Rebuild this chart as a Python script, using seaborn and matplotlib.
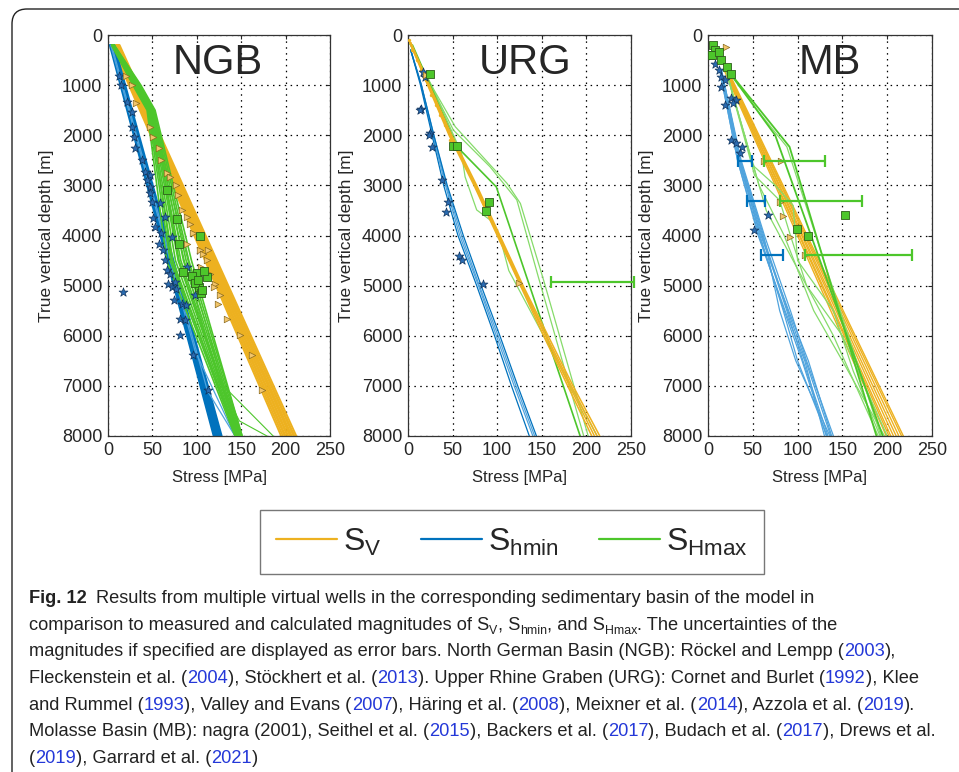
import pandas as pd
import seaborn as sns
from matplotlib import pyplot as plt
from matplotlib.lines import Line2D
from matplotlib.patches import FancyBboxPatch

SV_C = '#EDB120'
SHMIN_C = '#0072BD'
SHMIN_LIGHT = '#4FA3DD'
SHMAX_C = '#4DC62B'
SHMAX_LIGHT = '#86DB6A'

# ---------------- North German Basin ----------------
ngb_sv_top = [4, 5, 6, 7, 8, 9, 10, 10, 11, 12, 12, 13]
ngb_sv_bot = [195, 197, 199, 200, 202, 203, 205, 206, 207, 209, 210, 212]
ngb_shmin_top = [2, 3, 3, 4, 4, 5, 5, 6, 6, 7]
ngb_shmin_bot = [119, 120, 121, 122, 123, 124, 125, 126, 127, 128]
ngb_shmin_extra = [([200, 6300, 8000], [3, 98, 143]),
                   ([200, 7100, 8000], [4, 112, 143])]
ngb_shmax_depth = [200, 1000, 1500, 4500, 8000]
ngb_shmax_wells = [[4, 28, 44, 66, 143], [4, 29, 45, 70, 144], [5, 30, 46, 73, 145],
                   [5, 31, 47, 76, 146], [5, 32, 48, 79, 147], [6, 33, 49, 82, 148],
                   [6, 34, 50, 85, 149], [6, 35, 51, 88, 150], [7, 36, 52, 91, 151],
                   [7, 37, 53, 94, 151], [5, 31, 47, 72, 145], [6, 34, 50, 80, 148]]
ngb_shmax_extra = [([200, 1000, 1500, 4500, 6900, 7700, 8000], [5, 32, 48, 86, 125, 148, 179]),
                   ([200, 1000, 1500, 4500, 7000, 8000], [5, 33, 49, 90, 130, 186])]
ngb_star_x = [12, 15, 21, 27, 27, 29, 30, 38, 42, 47, 44, 47, 47, 49, 59, 51, 53, 60, 57, 62,
              64, 66, 70, 68, 72, 77, 74, 83, 88, 81, 87, 81, 96, 113, 17, 72, 64, 75, 98, 89]
ngb_star_y = [820, 1000, 1330, 1530, 1830, 2030, 2260, 2500, 2730, 2790, 2890, 3030, 3160, 3330,
              3360, 3660, 3830, 3960, 4160, 4290, 4490, 4690, 4760, 4960, 5020, 5060, 5290, 5360,
              5390, 5660, 5690, 5990, 6390, 7090, 5120, 4030, 3630, 4920, 5190, 4620]
ngb_tri_x = [20, 27, 32, 47, 51, 57, 60, 66, 70, 77, 79, 83, 89, 92, 96, 89, 104, 107, 111, 105,
             115, 120, 119, 126, 124, 134, 149, 162, 173, 113]
ngb_tri_y = [820, 1000, 1350, 1840, 2040, 2260, 2500, 2750, 2830, 2990, 3190, 3490, 3630, 3770,
             3950, 4170, 4290, 4360, 4490, 4620, 4760, 4960, 5020, 5190, 5360, 5660, 5990, 6390,
             7090, 4290]
ngb_sq_x = [67, 78, 80, 104, 85, 100, 112, 103, 105, 95, 98, 108, 101, 106]
ngb_sq_y = [3090, 3670, 4170, 4010, 4730, 4750, 4830, 5030, 5150, 4800, 4950, 4700, 4880, 5080]

# ---------------- Upper Rhine Graben ----------------
urg_sv_depth = [150, 1000, 2000, 3000, 4000, 5000, 6000, 7000, 8000]
urg_sv_wells = [[2, 22, 46, 74, 100, 126, 152, 179, 206], [2, 23, 47, 75, 101, 127, 154, 181, 209],
                [3, 23, 48, 76, 102, 128, 155, 183, 212], [3, 24, 49, 77, 103, 129, 157, 185, 215]]
urg_shmin_depth = [300, 1000, 2000, 3000, 4000, 5000, 6000, 7000, 8000]
urg_shmin_dark = [[3, 14, 27, 40, 56, 77, 97, 116, 136], [3, 15, 29, 44, 62, 82, 103, 123, 144]]
urg_shmin_light = [[3, 15, 28, 42, 58, 79, 99, 119, 140], [3, 15, 29, 43, 60, 80, 101, 121, 142]]
urg_shmax_light = [([100, 1030, 1830, 2960, 3360, 4890, 8000], [0, 27, 53, 111, 126, 152, 202]),
                   ([100, 1060, 1900, 2630, 3290, 4820, 8000], [0, 27, 51, 92, 122, 146, 197]),
                   ([100, 1030, 2360, 2830, 3490, 3690, 4030, 4700, 8000],
                    [0, 27, 60, 64, 77, 92, 103, 113, 212])]
urg_shmax_dark = [([200, 2230, 3030, 8000], [5, 55, 99, 193])]
urg_star_x = [17, 19, 15, 25, 27, 38, 45, 43, 57, 61, 84, 24, 14]
urg_star_y = [730, 830, 1480, 1960, 2230, 2890, 3330, 3530, 4410, 4490, 4960, 2000, 1500]
urg_sq_x = [25, 51, 55, 91, 87]
urg_sq_y = [780, 2220, 2220, 3330, 3510]
urg_tri_x = [124, 20]
urg_tri_y = [4940, 800]
urg_dot_x = [1, 5, 10, 15, 20, 26, 31, 36, 41, 47]
urg_dot_y = [100, 300, 500, 700, 900, 1200, 1400, 1600, 1800, 2100]
urg_err_lo = [160]
urg_err_hi = [253]
urg_err_y = [4920]

# ---------------- Molasse Basin ----------------
mb_sv_top = [18, 19, 19, 20, 20, 21, 21, 22]
mb_sv_bot = [199, 202, 204, 207, 210, 213, 216, 218]
mb_shmin_depth = [700, 2500, 4000, 5500, 6500, 8000]
mb_shmin_wells = [[13, 33, 57, 85, 105, 132], [14, 35, 60, 88, 106, 134], [15, 36, 62, 80, 98, 136],
                  [14, 34, 59, 90, 112, 138], [13, 33, 56, 86, 108, 130], [15, 37, 63, 92, 110, 140],
                  [14, 35, 58, 84, 100, 133], [15, 36, 61, 89, 109, 137]]
mb_shmax_dark = [([700, 2230, 8000], [22, 91, 188]), ([700, 2000, 8000], [22, 75, 195])]
mb_shmax_light = [([700, 1500, 2230, 8000], [22, 55, 88, 193]),
                  ([700, 2600, 3000, 3400, 4500, 5500, 6700, 8000], [20, 50, 75, 95, 100, 140, 162, 192]),
                  ([700, 2800, 3300, 4000, 5000, 6000, 8000], [20, 52, 80, 92, 110, 150, 200]),
                  ([700, 3000, 4000, 5500, 6500, 8000], [20, 57, 85, 118, 150, 197]),
                  ([700, 3500, 4500, 6000, 8000], [20, 65, 95, 140, 190])]
mb_sq_x = [6, 8, 2, 5, 12, 15, 21, 26, 99, 112, 153]
mb_sq_y = [200, 300, 400, 400, 330, 500, 630, 770, 3880, 4010, 3590]
mb_tri_x = [20, 62, 82, 80, 84, 92, 108, 25]
mb_tri_y = [230, 2510, 2510, 3330, 3610, 4030, 4390, 730]
mb_star_x = [8, 12, 15, 19, 15, 26, 31, 19, 28, 26, 31, 38, 36, 67, 51]
mb_star_y = [570, 700, 830, 900, 1030, 1260, 1300, 1400, 1360, 2100, 2160, 2230, 2360, 3590, 3890]
mb_blue_err_lo = [34, 43, 59]
mb_blue_err_hi = [49, 64, 84]
mb_green_err_lo = [62, 80, 108]
mb_green_err_hi = [131, 172, 228]
mb_err_y = [2510, 3310, 4390]

legend_labels = [r'$\mathrm{S_{V}}$', r'$\mathrm{S_{hmin}}$', r'$\mathrm{S_{Hmax}}$']

caption = [
    [('Fig. 12', 'b'), ('Results from multiple virtual wells in the corresponding sedimentary basin of the model in', 'g')],
    [('comparison to measured and calculated magnitudes of S', 'n'), ('V', 's'), (', S', 'n'), ('hmin', 's'),
     (', and S', 'n'), ('Hmax', 's'), ('. The uncertainties of the', 'n')],
    [('magnitudes if specified are displayed as error bars. North German Basin (NGB): Röckel and Lempp (', 'n'),
     ('2003', 'y'), ('),', 'n')],
    [('Fleckenstein et al. (', 'n'), ('2004', 'y'), ('), Stöckhert et al. (', 'n'), ('2013', 'y'),
     ('). Upper Rhine Graben (URG): Cornet and Burlet (', 'n'), ('1992', 'y'), ('), Klee', 'n')],
    [('and Rummel (', 'n'), ('1993', 'y'), ('), Valley and Evans (', 'n'), ('2007', 'y'), ('), Häring et al. (', 'n'),
     ('2008', 'y'), ('), Meixner et al. (', 'n'), ('2014', 'y'), ('), Azzola et al. (', 'n'), ('2019', 'y'), (').', 'n')],
    [('Molasse Basin (MB): nagra (2001), Seithel et al. (', 'n'), ('2015', 'y'), ('), Backers et al. (', 'n'),
     ('2017', 'y'), ('), Budach et al. (', 'n'), ('2017', 'y'), ('), Drews et al.', 'n')],
    [('(', 'n'), ('2019', 'y'), ('), Garrard et al. (', 'n'), ('2021', 'y'), (')', 'n')],
]


def straight_wells(top, bot, d0, d1):
    rows = []
    for i, (a, b) in enumerate(zip(top, bot)):
        rows.append((i, d0, a))
        rows.append((i, d1, b))
    return pd.DataFrame(rows, columns=['well', 'depth', 'stress'])


def shared_wells(depths, wells):
    rows = []
    for i, w in enumerate(wells):
        for d, s in zip(depths, w):
            rows.append((i, d, s))
    return pd.DataFrame(rows, columns=['well', 'depth', 'stress'])


def own_wells(wells):
    rows = []
    for i, (ds, ss) in enumerate(wells):
        for d, s in zip(ds, ss):
            rows.append((i, d, s))
    return pd.DataFrame(rows, columns=['well', 'depth', 'stress'])


def draw(ax, df, color, lw=0.9, z=2):
    sns.lineplot(data=df, x='stress', y='depth', units='well', estimator=None, sort=False,
                 color=color, lw=lw, ax=ax, legend=False, zorder=z)


def stars(ax, x, y):
    sns.scatterplot(x=x, y=y, marker='*', s=45, color='#2A6BB0', edgecolor='#10345E',
                    linewidth=0.5, ax=ax, legend=False, zorder=5)


def triangles(ax, x, y):
    sns.scatterplot(x=x, y=y, marker='>', s=22, color='#F2C56A', edgecolor='#8A6A1E',
                    linewidth=0.5, ax=ax, legend=False, zorder=5)


def squares(ax, x, y):
    sns.scatterplot(x=x, y=y, marker='s', s=40, color=SHMAX_C, edgecolor='#2D5E1A',
                    linewidth=0.6, ax=ax, legend=False, zorder=6)


def errbars(ax, lo, hi, y, color):
    mid = [(a + b) / 2 for a, b in zip(lo, hi)]
    half = [(b - a) / 2 for a, b in zip(lo, hi)]
    ax.errorbar(mid, y, xerr=half, fmt='none', ecolor=color, elinewidth=1.6,
                capsize=4, capthick=1.6, zorder=7, clip_on=False)


sns.set_style('white')
plt.rcParams['font.family'] = ['Liberation Sans', 'DejaVu Sans']
plt.rcParams['mathtext.fontset'] = 'custom'
plt.rcParams['mathtext.rm'] = 'Liberation Sans'
plt.rcParams['mathtext.it'] = 'Liberation Sans:italic'

W, H = 959, 772
fig = plt.figure(figsize=(W / 100, H / 100), dpi=100)
ax_ngb = fig.add_axes([108 / W, 1 - 436 / H, 222 / W, 401 / H])
ax_urg = fig.add_axes([408 / W, 1 - 436 / H, 223 / W, 401 / H])
ax_mb = fig.add_axes([708 / W, 1 - 436 / H, 224 / W, 401 / H])

# NGB
draw(ax_ngb, straight_wells(ngb_sv_top, ngb_sv_bot, 200, 8000), SV_C, lw=1.4)
draw(ax_ngb, straight_wells(ngb_shmin_top, ngb_shmin_bot, 200, 8000), SHMIN_C, lw=1.4)
draw(ax_ngb, own_wells(ngb_shmin_extra), SHMIN_LIGHT)
draw(ax_ngb, shared_wells(ngb_shmax_depth, ngb_shmax_wells), SHMAX_C, lw=1.2, z=3)
draw(ax_ngb, own_wells(ngb_shmax_extra), SHMAX_C, lw=0.8, z=3)
stars(ax_ngb, ngb_star_x, ngb_star_y)
triangles(ax_ngb, ngb_tri_x, ngb_tri_y)
squares(ax_ngb, ngb_sq_x, ngb_sq_y)

# URG
draw(ax_urg, shared_wells(urg_shmin_depth, urg_shmin_light), SHMIN_LIGHT)
draw(ax_urg, shared_wells(urg_shmin_depth, urg_shmin_dark), SHMIN_C)
draw(ax_urg, own_wells(urg_shmax_light), SHMAX_LIGHT)
draw(ax_urg, own_wells(urg_shmax_dark), SHMAX_C, lw=1.2)
draw(ax_urg, shared_wells(urg_sv_depth, urg_sv_wells), SV_C, lw=1.1, z=3)
sns.scatterplot(x=urg_dot_x, y=urg_dot_y, marker='o', s=6, color=SV_C, linewidth=0,
                ax=ax_urg, legend=False, zorder=4)
stars(ax_urg, urg_star_x, urg_star_y)
triangles(ax_urg, urg_tri_x, urg_tri_y)
squares(ax_urg, urg_sq_x, urg_sq_y)
errbars(ax_urg, urg_err_lo, urg_err_hi, urg_err_y, SHMAX_C)

# MB
draw(ax_mb, shared_wells(mb_shmin_depth, mb_shmin_wells), SHMIN_LIGHT, lw=0.9)
draw(ax_mb, straight_wells(mb_sv_top, mb_sv_bot, 700, 8000), SV_C, lw=1.0)
draw(ax_mb, own_wells(mb_shmax_light), SHMAX_LIGHT, lw=0.9)
draw(ax_mb, own_wells(mb_shmax_dark), SHMAX_C, lw=1.3)
stars(ax_mb, mb_star_x, mb_star_y)
triangles(ax_mb, mb_tri_x, mb_tri_y)
squares(ax_mb, mb_sq_x, mb_sq_y)
errbars(ax_mb, mb_blue_err_lo, mb_blue_err_hi, mb_err_y, SHMIN_C)
errbars(ax_mb, mb_green_err_lo, mb_green_err_hi, mb_err_y, SHMAX_C)

for ax, name, tx in [(ax_ngb, 'NGB', 0.495), (ax_urg, 'URG', 0.525), (ax_mb, 'MB', 0.545)]:
    ax.set_xlim(0, 250)
    ax.set_ylim(8000, 0)
    ax.set_xticks(range(0, 251, 50))
    ax.set_yticks(range(0, 8001, 1000))
    ax.grid(True, color='black', linestyle=(0, (1.2, 3.5)), linewidth=0.9)
    ax.set_axisbelow(True)
    ax.tick_params(labelsize=13, direction='in', length=3, top=True, right=True, pad=4)
    ax.set_xlabel('Stress [MPa]', fontsize=12, labelpad=8)
    ax.set_ylabel('True vertical depth [m]', fontsize=12.5, labelpad=6)
    for sp in ax.spines.values():
        sp.set_color('#333333')
        sp.set_linewidth(0.9)
    ax.text(tx, 0.93, name, transform=ax.transAxes, ha='center', va='center', fontsize=30)

handles = [Line2D([], [], color=c, lw=1.6) for c in (SV_C, SHMIN_C, SHMAX_C)]
leg = fig.legend(handles, legend_labels, loc='center', bbox_to_anchor=(512 / W, 1 - 542 / H),
                 ncol=3, fontsize=23, frameon=True, fancybox=False, edgecolor='#555555',
                 handlelength=1.9, handletextpad=0.2, columnspacing=1.25, borderpad=0.5,
                 borderaxespad=0)
leg.get_frame().set_linewidth(1.0)

# outer frame
frame = FancyBboxPatch((0.12, -1.0), 10.0, 8.63, boxstyle='round,pad=0,rounding_size=0.15',
                       transform=fig.dpi_scale_trans, fill=False, ec='#222222', lw=1.0)
fig.add_artist(frame)

# caption
renderer = fig.canvas.get_renderer()
cap_font = ['Liberation Sans Narrow', 'Liberation Sans', 'DejaVu Sans']


def put_line(segs, y, fs, dry=False):
    x = 29
    made = []
    for txt, kind in segs:
        size = fs * 0.68 if kind == 's' else fs
        dy = 4 if kind == 's' else 0
        if kind == 'g':
            x += 9
        t = fig.text(x / W, 1 - (y + dy) / H, txt, fontsize=size, family=cap_font,
                     weight='bold' if kind == 'b' else 'normal',
                     color='#2438D8' if kind == 'y' else '#222222', va='baseline', ha='left')
        x += t.get_window_extent(renderer).width
        made.append(t)
    if dry:
        for t in made:
            t.remove()
    return x


base = 14.0
widest = max(put_line(segs, 600, base, dry=True) for segs in caption)
cap_fs = base * (942 - 29) / (widest - 29)
for i, segs in enumerate(caption):
    put_line(segs, 603 + i * 26.7, cap_fs)

plt.savefig('out.png', dpi=100)
